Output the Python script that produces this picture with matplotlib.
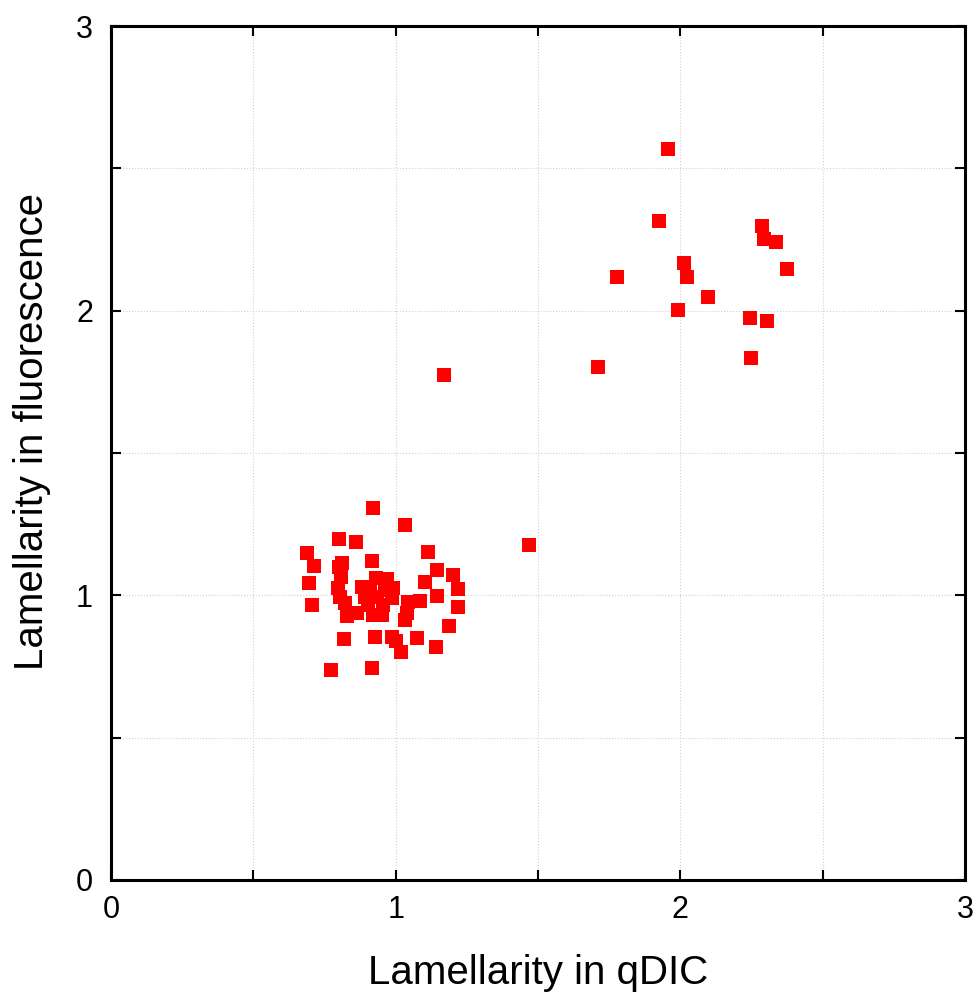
import matplotlib
matplotlib.use('Agg')
import matplotlib.pyplot as plt
from matplotlib.ticker import MultipleLocator

plt.rcParams['font.family'] = ['Liberation Sans', 'DejaVu Sans']

# upper group + outliers
x_hi = [1.957, 1.925, 2.287, 2.295, 2.337, 2.373, 2.014, 2.023, 1.778, 2.098,
        1.992, 2.243, 2.303, 2.248, 1.712, 1.170, 1.468]
y_hi = [2.567, 2.316, 2.297, 2.251, 2.241, 2.148, 2.167, 2.118, 2.119, 2.049,
        2.002, 1.976, 1.962, 1.832, 1.801, 1.774, 1.176]

# lower cluster (around 1,1)
x_lo = [0.921, 1.034, 0.802, 0.862, 0.690, 1.113, 0.714, 0.812, 0.800, 0.916,
        1.146, 1.200, 0.697, 0.808, 0.797, 1.103, 1.218, 0.705, 1.146, 1.218,
        1.188, 0.820, 0.927, 0.986, 1.001, 1.075, 1.019, 1.140, 0.772, 0.916,
        0.881, 0.931, 0.968, 0.992, 0.986, 0.933, 0.892, 0.904, 0.822, 0.828,
        0.863, 0.921, 0.951, 1.044, 1.085, 1.039, 1.033, 0.910, 0.962, 0.957,
        0.804]
y_lo = [1.308, 1.246, 1.199, 1.187, 1.150, 1.153, 1.103, 1.115, 1.100, 1.122,
        1.089, 1.070, 1.042, 1.065, 1.027, 1.048, 1.022, 0.966, 0.998, 0.958,
        0.892, 0.845, 0.855, 0.853, 0.841, 0.849, 0.800, 0.817, 0.737, 0.744,
        1.030, 1.060, 1.056, 1.025, 0.989, 0.995, 0.995, 0.966, 0.972, 0.927,
        0.937, 0.931, 0.931, 0.978, 0.981, 0.937, 0.913, 1.019, 1.019, 0.966,
        0.995]

x = x_hi + x_lo
y = y_hi + y_lo

fig = plt.figure(figsize=(9.78, 10.01), dpi=100)
ax = fig.add_axes([0.1135, 0.1209, 0.8732, 0.8531])

ax.scatter(x, y, marker='s', s=88, color='#ff0000', linewidths=0, zorder=3)

ax.set_xlim(0, 3)
ax.set_ylim(0, 3)
ax.xaxis.set_major_locator(MultipleLocator(1))
ax.yaxis.set_major_locator(MultipleLocator(1))
ax.xaxis.set_minor_locator(MultipleLocator(0.5))
ax.yaxis.set_minor_locator(MultipleLocator(0.5))

# gnuplot style: dotted grid, ticks inside on all sides
ax.grid(True, which='both', color='#d0d0d0', linestyle=':', linewidth=0.8)
ax.tick_params(which='both', direction='in', top=True, right=True,
               length=7, width=1.5, labelsize=22)
ax.tick_params(axis='x', pad=11)
ax.tick_params(axis='y', pad=13)
for s in ax.spines.values():
    s.set_linewidth(2.2)

ax.set_xlabel('Lamellarity in qDIC', fontsize=29)
ax.set_ylabel('Lamellarity in fluorescence', fontsize=29)
ax.xaxis.set_label_coords(0.5, -0.087)
ax.yaxis.set_label_coords(-0.07, 0.525)

fig.savefig('out.png', dpi=100)
